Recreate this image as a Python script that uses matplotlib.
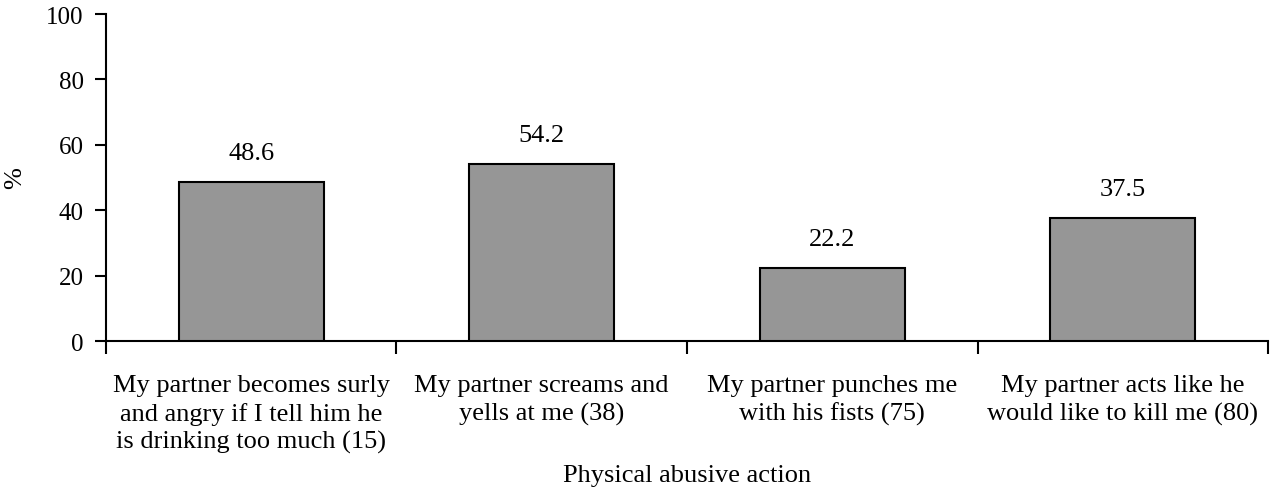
import numpy as np
import matplotlib
matplotlib.use('Agg')
import matplotlib.pyplot as plt
from matplotlib.ticker import FixedLocator

plt.rcParams['font.family'] = ['Liberation Serif', 'DejaVu Serif']

# survey responses: share of women reporting each action
categories = ['My partner becomes surly\nand angry if I tell him he\nis drinking too much (15)',
              'My partner screams and\nyells at me (38)',
              'My partner punches me\nwith his fists (75)',
              'My partner acts like he\nwould like to kill me (80)']
values = [48.6, 54.2, 22.2, 37.5]
yticks = [0, 20, 40, 60, 80, 100]

fig = plt.figure(figsize=(12.72, 4.89), dpi=100)
ax = fig.add_axes([0.0833, 0.3006, 0.9136, 0.6687])

x = np.arange(len(categories))
ax.bar(x, values, width=0.5, color='#969696', edgecolor='black', linewidth=1.5, zorder=3)

for xi, v in zip(x, values):
    ax.annotate('%.1f' % v, (xi, v), xytext=(0, 13), textcoords='offset points',
                ha='center', va='bottom', fontsize=19)

ax.set_xlim(-0.5, len(categories) - 0.5)
ax.set_ylim(0, 100)
ax.set_yticks(yticks)
ax.set_xticks(x)
ax.set_xticklabels(categories, fontsize=19, linespacing=1.3)
# tick marks sit between the categories
ax.xaxis.set_minor_locator(FixedLocator(np.arange(len(categories) + 1) - 0.5))
ax.tick_params(axis='x', which='major', length=0, pad=24)
ax.tick_params(axis='x', which='minor', length=9, width=1.5, direction='out')
ax.tick_params(axis='y', length=8, width=1.5, direction='out', labelsize=18, pad=8)

for s in ['top', 'right']:
    ax.spines[s].set_visible(False)
for s in ['left', 'bottom']:
    ax.spines[s].set_linewidth(1.5)

ax.set_ylabel('%', fontsize=19)
ax.yaxis.set_label_coords(-0.069, 0.5)
ax.set_xlabel('Physical abusive action', fontsize=19, va='top')
ax.xaxis.set_label_coords(0.5, -0.376)

plt.savefig('out.png', dpi=100)
